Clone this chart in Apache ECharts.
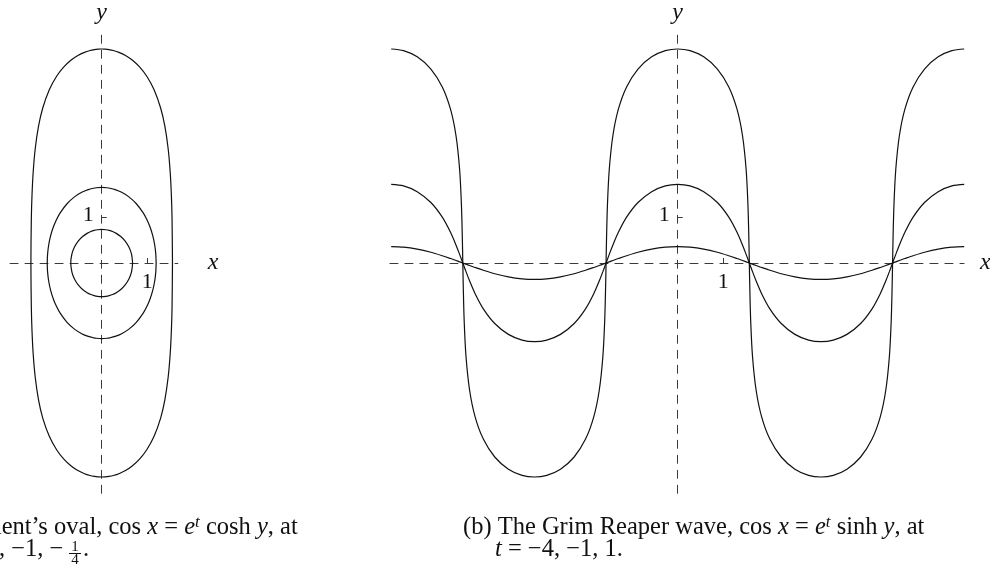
<!DOCTYPE html>
<html>
<head>
<meta charset="utf-8">
<script src="https://cdn.jsdelivr.net/npm/echarts@6/dist/echarts.min.js"></script>
<style>html,body{margin:0;padding:0;background:#fff}#c{width:990px;height:564px}</style>
</head>
<body>
<div id="c"></div>
<script>
// ---------- data (axis units) ----------
// (a) Angenent's oval, cos x = e^t cosh y   t = -4, -1, -1/4
const ovalOuterX = [1.5525, 1.5425, 1.5277, 1.5018, 1.4582, 1.3853, 1.2925, 1.1488, 0.9852, 0.8298, 0.6693, 0.5222, 0.3776, 0.2557, 0.1612, 0.0781, 0,
  -0.0781, -0.1612, -0.2557, -0.3776, -0.5222, -0.6693, -0.8298, -0.9852, -1.1488, -1.2925, -1.3853, -1.4582, -1.5018, -1.5277, -1.5425, -1.5525,
  -1.5425, -1.5277, -1.5018, -1.4582, -1.3853, -1.2925, -1.1488, -0.9852, -0.8298, -0.6693, -0.5222, -0.3776, -0.2557, -0.1612, -0.0781, 0,
  0.0781, 0.1612, 0.2557, 0.3776, 0.5222, 0.6693, 0.8298, 0.9852, 1.1488, 1.2925, 1.3853, 1.4582, 1.5018, 1.5277, 1.5425, 1.5525];
const ovalOuterY = [0, 1, 1.5, 2, 2.5, 3, 3.4, 3.8, 4.1, 4.3, 4.45, 4.55, 4.62, 4.66, 4.68, 4.69, 4.693,
  4.69, 4.68, 4.66, 4.62, 4.55, 4.45, 4.3, 4.1, 3.8, 3.4, 3, 2.5, 2, 1.5, 1, 0,
  -1, -1.5, -2, -2.5, -3, -3.4, -3.8, -4.1, -4.3, -4.45, -4.55, -4.62, -4.66, -4.68, -4.69, -4.693,
  -4.69, -4.68, -4.66, -4.62, -4.55, -4.45, -4.3, -4.1, -3.8, -3.4, -3, -2.5, -2, -1.5, -1, 0];

const ovalMiddleX = [1.1941, 1.1862, 1.1618, 1.1196, 1.0566, 0.9923, 0.9106, 0.7597, 0.5966, 0.4378, 0.2946, 0.1794, 0.1174, 0,
  -0.1174, -0.1794, -0.2946, -0.4378, -0.5966, -0.7597, -0.9106, -0.9923, -1.0566, -1.1196, -1.1618, -1.1862, -1.1941,
  -1.1862, -1.1618, -1.1196, -1.0566, -0.9923, -0.9106, -0.7597, -0.5966, -0.4378, -0.2946, -0.1794, -0.1174, 0,
  0.1174, 0.1794, 0.2946, 0.4378, 0.5966, 0.7597, 0.9106, 0.9923, 1.0566, 1.1196, 1.1618, 1.1862, 1.1941];
const ovalMiddleY = [0, 0.2, 0.4, 0.6, 0.8, 0.95, 1.1, 1.3, 1.45, 1.55, 1.61, 1.64, 1.65, 1.657,
  1.65, 1.64, 1.61, 1.55, 1.45, 1.3, 1.1, 0.95, 0.8, 0.6, 0.4, 0.2, 0,
  -0.2, -0.4, -0.6, -0.8, -0.95, -1.1, -1.3, -1.45, -1.55, -1.61, -1.64, -1.65, -1.657,
  -1.65, -1.64, -1.61, -1.55, -1.45, -1.3, -1.1, -0.95, -0.8, -0.6, -0.4, -0.2, 0];

const ovalInnerX = [0.678, 0.653, 0.597, 0.515, 0.419, 0.320, 0.239, 0.165, 0.093, 0,
  -0.093, -0.165, -0.239, -0.320, -0.419, -0.515, -0.597, -0.653, -0.678,
  -0.653, -0.597, -0.515, -0.419, -0.320, -0.239, -0.165, -0.093, 0,
  0.093, 0.165, 0.239, 0.320, 0.419, 0.515, 0.597, 0.653, 0.678];
const ovalInnerY = [0, 0.2, 0.35, 0.48, 0.58, 0.65, 0.69, 0.715, 0.73, 0.737,
  0.73, 0.715, 0.69, 0.65, 0.58, 0.48, 0.35, 0.2, 0,
  -0.2, -0.35, -0.48, -0.58, -0.65, -0.69, -0.715, -0.73, -0.737,
  -0.73, -0.715, -0.69, -0.65, -0.58, -0.48, -0.35, -0.2, 0];

// (b) Grim Reaper wave, cos x = e^t sinh y   t = -4, -1, 1
const waveX = [-6.2832, -6.0124, -5.7124, -5.4124, -5.1624, -4.9824, -4.8624, -4.7824, -4.7424, -4.7224, -4.7124,
  -4.7024, -4.6824, -4.6424, -4.5624, -4.4424, -4.2624, -4.0124, -3.7124, -3.4124, -3.1416,
  -2.8708, -2.5708, -2.2708, -2.0208, -1.8408, -1.7208, -1.6408, -1.6008, -1.5808, -1.5708,
  -1.5608, -1.5408, -1.5008, -1.4208, -1.3008, -1.1208, -0.8708, -0.5708, -0.2708, 0,
  0.2708, 0.5708, 0.8708, 1.1208, 1.3008, 1.4208, 1.5008, 1.5408, 1.5608, 1.5708,
  1.5808, 1.6008, 1.6408, 1.7208, 1.8408, 2.0208, 2.2708, 2.5708, 2.8708, 3.1416,
  3.4124, 3.7124, 4.0124, 4.2624, 4.4424, 4.5624, 4.6424, 4.6824, 4.7024, 4.7124,
  4.7224, 4.7424, 4.7824, 4.8624, 4.9824, 5.1624, 5.4124, 5.7124, 6.0124, 6.2832];
const waveTm4 = [4.693, 4.656, 4.521, 4.254, 3.861, 3.373, 2.796, 2.049, 1.269, 0.522, 0,
  -0.522, -1.269, -2.049, -2.796, -3.373, -3.861, -4.254, -4.521, -4.656, -4.693,
  -4.656, -4.521, -4.254, -3.861, -3.373, -2.796, -2.049, -1.269, -0.522, 0,
  0.522, 1.269, 2.049, 2.796, 3.373, 3.861, 4.254, 4.521, 4.656, 4.693,
  4.656, 4.521, 4.254, 3.861, 3.373, 2.796, 2.049, 1.269, 0.522, 0,
  -0.522, -1.269, -2.049, -2.796, -3.373, -3.861, -4.254, -4.521, -4.656, -4.693,
  -4.656, -4.521, -4.254, -3.861, -3.373, -2.796, -2.049, -1.269, -0.522, 0,
  0.522, 1.269, 2.049, 2.796, 3.373, 3.861, 4.254, 4.521, 4.656, 4.693];
const waveTm1 = [1.725, 1.691, 1.565, 1.326, 1.005, 0.673, 0.396, 0.189, 0.081, 0.027, 0,
  -0.027, -0.081, -0.189, -0.396, -0.673, -1.005, -1.326, -1.565, -1.691, -1.725,
  -1.691, -1.565, -1.326, -1.005, -0.673, -0.396, -0.189, -0.081, -0.027, 0,
  0.027, 0.081, 0.189, 0.396, 0.673, 1.005, 1.326, 1.565, 1.691, 1.725,
  1.691, 1.565, 1.326, 1.005, 0.673, 0.396, 0.189, 0.081, 0.027, 0,
  -0.027, -0.081, -0.189, -0.396, -0.673, -1.005, -1.326, -1.565, -1.691, -1.725,
  -1.691, -1.565, -1.326, -1.005, -0.673, -0.396, -0.189, -0.081, -0.027, 0,
  0.027, 0.081, 0.189, 0.396, 0.673, 1.005, 1.326, 1.565, 1.691, 1.725];
const waveTp1 = [0.360, 0.348, 0.305, 0.235, 0.159, 0.098, 0.055, 0.026, 0.011, 0.004, 0,
  -0.004, -0.011, -0.026, -0.055, -0.098, -0.159, -0.235, -0.305, -0.348, -0.360,
  -0.348, -0.305, -0.235, -0.159, -0.098, -0.055, -0.026, -0.011, -0.004, 0,
  0.004, 0.011, 0.026, 0.055, 0.098, 0.159, 0.235, 0.305, 0.348, 0.360,
  0.348, 0.305, 0.235, 0.159, 0.098, 0.055, 0.026, 0.011, 0.004, 0,
  -0.004, -0.011, -0.026, -0.055, -0.098, -0.159, -0.235, -0.305, -0.348, -0.360,
  -0.348, -0.305, -0.235, -0.159, -0.098, -0.055, -0.026, -0.011, -0.004, 0,
  0.004, 0.011, 0.026, 0.055, 0.098, 0.159, 0.235, 0.305, 0.348, 0.360];

// tick labels / axis names
const tickValues = [1];
const tickLabels = ['1'];
const axisNameX = 'x';
const axisNameY = 'y';

// ---------- chart ----------
const FONT = 'Liberation Serif';
const zip = (xs, ys) => xs.map((x, i) => [x, ys[i]]);

const AXIS_COLOR = '#3a3a3a';
const DASH = [8, 7];

function xAxisFor(grid, min, max, nameGap) {
  return {
    gridIndex: grid, type: 'value', min: min, max: max,
    axisLine: { show: true, onZero: true, lineStyle: { color: AXIS_COLOR, width: 1, type: DASH } },
    axisTick: { show: true, inside: true, length: 5, customValues: tickValues, lineStyle: { color: AXIS_COLOR, width: 1 } },
    axisLabel: { show: false },
    splitLine: { show: false },
    name: axisNameX, nameLocation: 'end', nameGap: nameGap,
    nameTextStyle: { fontFamily: FONT, fontStyle: 'italic', fontSize: 24, color: '#111', verticalAlign: 'middle' }
  };
}
function yAxisFor(grid) {
  return {
    gridIndex: grid, type: 'value', min: -5.05, max: 5.0,
    axisLine: { show: true, onZero: true, lineStyle: { color: AXIS_COLOR, width: 1, type: DASH } },
    axisTick: { show: true, inside: true, length: 5, customValues: tickValues, lineStyle: { color: AXIS_COLOR, width: 1 } },
    axisLabel: { show: false },
    splitLine: { show: false },
    name: axisNameY, nameLocation: 'end', nameGap: 10,
    nameTextStyle: { fontFamily: FONT, fontStyle: 'italic', fontSize: 24, color: '#111' }
  };
}

const curveStyle = { color: '#111', width: 1.2 };
function curve(grid, data) {
  return { type: 'line', xAxisIndex: grid, yAxisIndex: grid, data: data, showSymbol: false, symbol: 'none',
    smooth: 0.3, clip: false, silent: true, lineStyle: curveStyle };
}

const CAP = 24.5;
const richStyles = {
  i: { fontFamily: FONT, fontStyle: 'italic', fontSize: CAP, lineHeight: 28, fill: '#111' },
  s: { fontFamily: FONT, fontStyle: 'italic', fontSize: 17, lineHeight: 16, verticalAlign: 'top', fill: '#111' }
};
function caption(id, x, y, text) {
  return { id: id, type: 'text', x: x, y: y, silent: true,
    style: { text: text, fontFamily: FONT, fontSize: CAP, lineHeight: 28, fill: '#111',
      align: 'left', verticalAlign: 'top', textAlign: 'left', textVerticalAlign: 'top', rich: richStyles } };
}
function plain(id, x, y, text, size, align, valign) {
  return { id: id, type: 'text', x: x, y: y, silent: true,
    style: { text: text, fontFamily: FONT, fontSize: size, fill: '#111',
      align: align, verticalAlign: valign, textAlign: align, textVerticalAlign: valign } };
}

const option = {
  animation: false,
  backgroundColor: '#ffffff',
  grid: [
    { left: 10.04, top: 35, width: 167.8, height: 458.3, outerBoundsMode: 'none', containLabel: false },
    { left: 389.96, top: 35, width: 574.1, height: 458.3, outerBoundsMode: 'none', containLabel: false }
  ],
  xAxis: [xAxisFor(0, -2.01, 1.67, 30), xAxisFor(1, -6.31, 6.28, 16)],
  yAxis: [yAxisFor(0), yAxisFor(1)],
  series: [
    curve(0, zip(ovalOuterX, ovalOuterY)),
    curve(0, zip(ovalMiddleX, ovalMiddleY)),
    curve(0, zip(ovalInnerX, ovalInnerY)),
    curve(1, zip(waveX, waveTm4)),
    curve(1, zip(waveX, waveTm1)),
    curve(1, zip(waveX, waveTp1))
  ]
};

const chart = echarts.init(document.getElementById('c'), null, { renderer: 'canvas' });
chart.setOption(option);

// captions + tick labels "1" placed next to the on-zero axes through the chart's own scales
const graphics = [
  caption('capA1', -97, 514, '(a) Angenent\u2019s oval, cos {i|x} = {i|e}{s|t} cosh {i|y}, at'),
  caption('capA2', -60, 536, '{i|t} = \u22124, \u22121, \u2212'),
  plain('fracN', 75, 547, '1', 15, 'center', 'middle'),
  { id: 'fracBar', type: 'line', silent: true, shape: { x1: 69, y1: 553.5, x2: 81, y2: 553.5 }, style: { stroke: '#111', lineWidth: 1 } },
  plain('fracD', 75, 560, '4', 15, 'center', 'middle'),
  caption('capA3', 83, 536, '.'),
  caption('capB1', 463, 514, '(b) The Grim Reaper wave, cos {i|x} = {i|e}{s|t} sinh {i|y}, at'),
  caption('capB2', 495, 536, '{i|t} = \u22124, \u22121, 1.')
];
[0, 1].forEach(g => {
  tickValues.forEach((v, k) => {
    const px = chart.convertToPixel({ gridIndex: g }, [v, 0]);
    const py = chart.convertToPixel({ gridIndex: g }, [0, v]);
    graphics.push(plain('xl' + g + k, px[0], px[1] + 8, tickLabels[k], 22, 'center', 'top'));
    graphics.push(plain('yl' + g + k, py[0] - 8, py[1] - 2, tickLabels[k], 22, 'right', 'middle'));
  });
});
chart.setOption({ graphic: graphics });
</script>
</body>
</html>
